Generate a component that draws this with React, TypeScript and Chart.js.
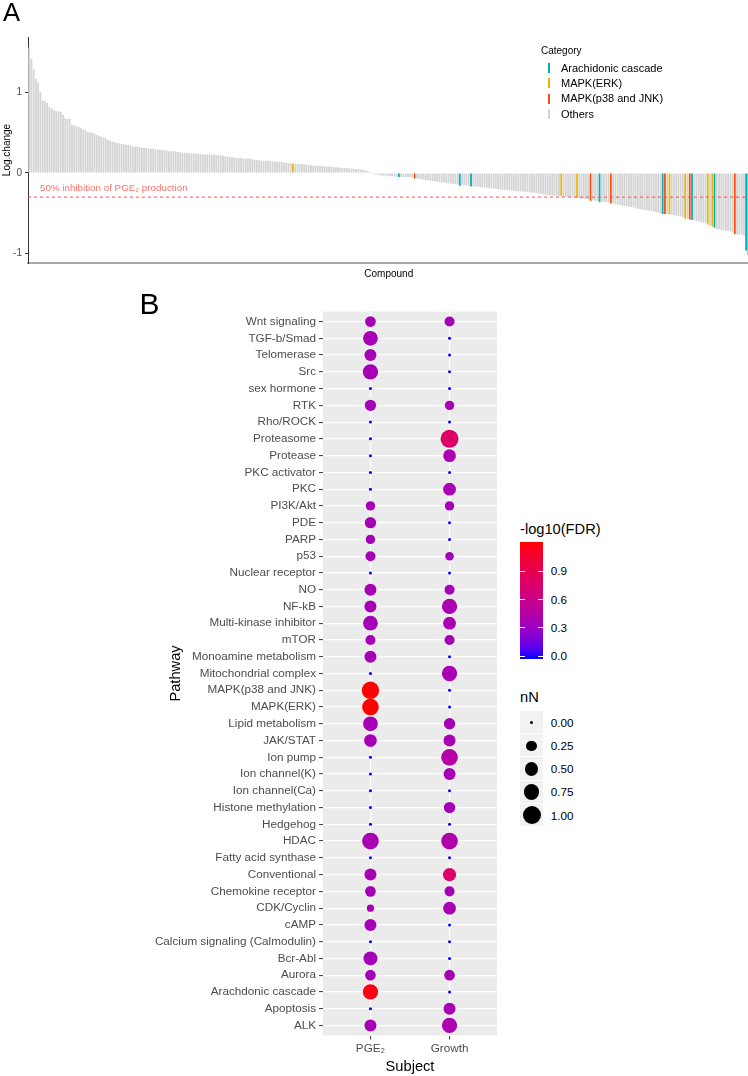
import React, { useEffect, useRef } from "react";
import { Chart, registerables } from "chart.js";
Chart.register(...registerables);

const FONT = '"Liberation Sans", Arial, Helvetica, sans-serif';

// ---------- Panel A data ----------
const LOG_CHANGE = [
  1.56, 1.42, 1.29, 1.17, 1.12, 1.01, 0.90, 0.89, 0.87, 0.82,
  0.80, 0.78, 0.77, 0.76, 0.76, 0.72, 0.68, 0.67, 0.67, 0.60,
  0.59, 0.58, 0.575, 0.56, 0.54, 0.53, 0.51, 0.505, 0.50, 0.49,
  0.47, 0.46, 0.45, 0.44, 0.43, 0.41, 0.40, 0.39, 0.38, 0.37,
  0.37, 0.36, 0.36, 0.35, 0.35, 0.34, 0.33, 0.33, 0.33, 0.32,
  0.31, 0.31, 0.31, 0.30, 0.30, 0.30, 0.29, 0.29, 0.29, 0.285,
  0.28, 0.28, 0.27, 0.27, 0.27, 0.265, 0.26, 0.26, 0.25, 0.25,
  0.25, 0.245, 0.24, 0.24, 0.24, 0.235, 0.235, 0.23, 0.23, 0.23,
  0.23, 0.225, 0.225, 0.22, 0.22, 0.22, 0.215, 0.21, 0.20, 0.20,
  0.195, 0.19, 0.19, 0.185, 0.185, 0.18, 0.18, 0.18, 0.175, 0.17,
  0.16, 0.16, 0.155, 0.155, 0.15, 0.15, 0.15, 0.145, 0.145, 0.14,
  0.14, 0.14, 0.135, 0.13, 0.125, 0.12, 0.12, 0.115, 0.115, 0.11,
  0.11, 0.11, 0.105, 0.105, 0.10, 0.095, 0.09, 0.09, 0.09, 0.085,
  0.085, 0.08, 0.08, 0.08, 0.075, 0.075, 0.07, 0.07, 0.065, 0.06,
  0.06, 0.06, 0.055, 0.055, 0.05, 0.05, 0.045, 0.045, 0.04, 0.03,
  0.025, 0.015, -0.01, -0.015, -0.02, -0.025, -0.03, -0.035, -0.035, -0.04,
  -0.04, -0.04, -0.045, -0.045, -0.05, -0.05, -0.05, -0.05, -0.055, -0.055,
  -0.06, -0.07, -0.07, -0.075, -0.08, -0.085, -0.09, -0.09, -0.095, -0.10,
  -0.105, -0.11, -0.115, -0.12, -0.12, -0.125, -0.13, -0.135, -0.14, -0.14,
  -0.145, -0.16, -0.15, -0.155, -0.155, -0.16, -0.17, -0.165, -0.17, -0.17,
  -0.175, -0.18, -0.18, -0.185, -0.19, -0.19, -0.195, -0.20, -0.20, -0.205,
  -0.21, -0.21, -0.215, -0.22, -0.22, -0.225, -0.225, -0.23, -0.23, -0.235,
  -0.235, -0.24, -0.24, -0.245, -0.245, -0.25, -0.255, -0.26, -0.265, -0.27,
  -0.275, -0.28, -0.28, -0.285, -0.285, -0.29, -0.29, -0.295, -0.30, -0.30,
  -0.30, -0.305, -0.305, -0.31, -0.315, -0.32, -0.32, -0.325, -0.33, -0.345,
  -0.34, -0.345, -0.35, -0.365, -0.355, -0.36, -0.36, -0.365, -0.377, -0.38,
  -0.39, -0.395, -0.40, -0.405, -0.41, -0.415, -0.42, -0.425, -0.43, -0.44,
  -0.445, -0.45, -0.455, -0.46, -0.465, -0.47, -0.475, -0.48, -0.485, -0.49,
  -0.50, -0.51, -0.51, -0.51, -0.515, -0.52, -0.525, -0.53, -0.535, -0.54,
  -0.55, -0.57, -0.57, -0.58, -0.585, -0.59, -0.60, -0.605, -0.61, -0.62,
  -0.63, -0.64, -0.655, -0.67, -0.68, -0.70, -0.70, -0.71, -0.71, -0.72,
  -0.72, -0.73, -0.73, -0.76, -0.765, -0.77, -0.77, -0.78, -0.965, -1.02,
];
const HIGHLIGHT_INDEX = [117, 164, 171, 191, 196, 236, 243, 249, 253, 258, 281, 282, 284, 291, 293, 294, 301, 303, 304, 313, 318, 319];
const HIGHLIGHT_CATEGORY = [
  "MAPK(ERK)", "Arachidonic cascade", "MAPK(p38 and JNK)", "Arachidonic cascade", "Arachidonic cascade",
  "MAPK(ERK)", "MAPK(ERK)", "MAPK(p38 and JNK)", "Arachidonic cascade", "MAPK(p38 and JNK)",
  "Arachidonic cascade", "MAPK(p38 and JNK)", "MAPK(ERK)", "MAPK(ERK)", "MAPK(p38 and JNK)",
  "Arachidonic cascade", "MAPK(ERK)", "MAPK(ERK)", "Arachidonic cascade", "MAPK(p38 and JNK)",
  "Arachidonic cascade", "Arachidonic cascade",
];
const CATEGORIES = ["Arachidonic cascade", "MAPK(ERK)", "MAPK(p38 and JNK)", "Others"];
const CATEGORY_COLORS = ["#00AFBB", "#E7B800", "#FC4E07", "#D4D4D4"];
const Y_TICKS_A = [-1, 0, 1];
const THRESHOLD = -0.301;
const THRESHOLD_LABEL = "50% inhibition of PGE₂ production";

// ---------- Panel B data ----------
const PATHWAYS = [
  "Wnt signaling", "TGF-b/Smad", "Telomerase", "Src", "sex hormone", "RTK", "Rho/ROCK",
  "Proteasome", "Protease", "PKC activator", "PKC", "PI3K/Akt", "PDE", "PARP", "p53",
  "Nuclear receptor", "NO", "NF-kB", "Multi-kinase inhibitor", "mTOR", "Monoamine metabolism",
  "Mitochondrial complex", "MAPK(p38 and JNK)", "MAPK(ERK)", "Lipid metabolism", "JAK/STAT",
  "Ion pump", "Ion channel(K)", "Ion channel(Ca)", "Histone methylation", "Hedgehog", "HDAC",
  "Fatty acid synthase", "Conventional", "Chemokine receptor", "CDK/Cyclin", "cAMP",
  "Calcium signaling (Calmodulin)", "Bcr-Abl", "Aurora", "Arachdonic cascade", "Apoptosis", "ALK",
];
const SUBJECTS = ["PGE₂", "Growth"];
const NN_PGE2 = [
  0.26, 0.61, 0.36, 0.67, 0, 0.31, 0, 0, 0, 0, 0, 0.18, 0.31, 0.18, 0.22,
  0, 0.36, 0.36, 0.61, 0.22, 0.36, 0, 0.91, 0.83, 0.61, 0.42, 0, 0, 0, 0,
  0, 0.83, 0, 0.36, 0.26, 0.08, 0.36, 0, 0.54, 0.26, 0.67, 0, 0.36,
];
const NN_GROWTH = [
  0.22, 0, 0, 0, 0, 0.18, 0, 1.0, 0.42, 0, 0.42, 0.18, 0, 0, 0.14,
  0, 0.22, 0.67, 0.42, 0.22, 0, 0.67, 0, 0, 0.31, 0.36, 0.83, 0.36, 0, 0.31,
  0, 0.83, 0, 0.47, 0.22, 0.42, 0, 0, 0, 0.26, 0, 0.36, 0.67,
];
const FDR_PGE2 = [
  0.36, 0.36, 0.36, 0.36, 0, 0.36, 0, 0, 0, 0, 0, 0.36, 0.36, 0.36, 0.36,
  0, 0.36, 0.36, 0.36, 0.36, 0.36, 0, 1.2, 1.2, 0.36, 0.36, 0, 0, 0, 0,
  0, 0.38, 0, 0.36, 0.36, 0.36, 0.36, 0, 0.36, 0.36, 1.16, 0, 0.36,
];
const FDR_GROWTH = [
  0.36, 0, 0, 0, 0, 0.36, 0, 0.78, 0.38, 0, 0.38, 0.36, 0, 0, 0.36,
  0, 0.36, 0.4, 0.38, 0.36, 0, 0.38, 0, 0, 0.36, 0.38, 0.45, 0.36, 0, 0.36,
  0, 0.42, 0, 0.78, 0.36, 0.38, 0, 0, 0, 0.36, 0, 0.38, 0.4,
];
const COLOR_MAX = 1.2;
const COLORBAR_TICKS = [0.0, 0.3, 0.6, 0.9];
const SIZE_TICKS = [0, 0.25, 0.5, 0.75, 1];

// ---------- colour / size helpers ----------
const WX = 0.95047, WY = 1.0, WZ = 1.08883;
function toLin(c: number) { const v = c / 255; return v <= 0.04045 ? v / 12.92 : Math.pow((v + 0.055) / 1.055, 2.4); }
function fromLin(v: number) {
  const c = v <= 0.0031308 ? 12.92 * v : 1.055 * Math.pow(Math.max(v, 0), 1 / 2.4) - 0.055;
  return Math.round(Math.min(1, Math.max(0, c)) * 255);
}
function fLab(t: number) { return t > 0.008856 ? Math.cbrt(t) : 7.787 * t + 16 / 116; }
function fInv(t: number) { const t3 = t * t * t; return t3 > 0.008856 ? t3 : (t - 16 / 116) / 7.787; }
function rgbToLab(r: number, g: number, b: number) {
  const R = toLin(r), G = toLin(g), B = toLin(b);
  const X = 0.4124 * R + 0.3576 * G + 0.1805 * B;
  const Y = 0.2126 * R + 0.7152 * G + 0.0722 * B;
  const Z = 0.0193 * R + 0.1192 * G + 0.9505 * B;
  const fx = fLab(X / WX), fy = fLab(Y / WY), fz = fLab(Z / WZ);
  return [116 * fy - 16, 500 * (fx - fy), 200 * (fy - fz)];
}
function labToCss(L: number, a: number, b: number) {
  const fy = (L + 16) / 116, fx = fy + a / 500, fz = fy - b / 200;
  const X = WX * fInv(fx), Y = WY * fInv(fy), Z = WZ * fInv(fz);
  const R = 3.2406 * X - 1.5372 * Y - 0.4986 * Z;
  const G = -0.9689 * X + 1.8758 * Y + 0.0415 * Z;
  const B = 0.0557 * X - 0.204 * Y + 1.057 * Z;
  return `rgb(${fromLin(R)},${fromLin(G)},${fromLin(B)})`;
}
const LOW_LAB = rgbToLab(0, 0, 255);
const HIGH_LAB = rgbToLab(255, 0, 0);
function colorFor(v: number) {
  const t = Math.min(1, Math.max(0, v / COLOR_MAX));
  return labToCss(
    LOW_LAB[0] + (HIGH_LAB[0] - LOW_LAB[0]) * t,
    LOW_LAB[1] + (HIGH_LAB[1] - LOW_LAB[1]) * t,
    LOW_LAB[2] + (HIGH_LAB[2] - LOW_LAB[2]) * t
  );
}
function diameterFor(n: number) { return 3 + 15 * Math.sqrt(n); }

// ---------- small text helper ----------
function T(props: { x: number; cy: number; size: number; color?: string; children: React.ReactNode }) {
  const { x, cy, size, color = "#000", children } = props;
  const style: React.CSSProperties = {
    position: "absolute",
    left: x,
    top: cy - 0.4885 * size,
    fontSize: size,
    lineHeight: 1,
    color,
    whiteSpace: "nowrap",
    fontFamily: FONT,
  };
  return <div style={style}>{children}</div>;
}

function PanelA() {
  const ref = useRef<HTMLCanvasElement | null>(null);
  useEffect(() => {
    if (!ref.current) return;
    const labels = LOG_CHANGE.map((_, i) => `C${i + 1}`);
    const colors = LOG_CHANGE.map((_, i) => {
      const k = HIGHLIGHT_INDEX.indexOf(i);
      return k < 0 ? CATEGORY_COLORS[3] : CATEGORY_COLORS[CATEGORIES.indexOf(HIGHLIGHT_CATEGORY[k])];
    });
    const thresholdPlugin = {
      id: "threshold",
      afterDatasetsDraw(chart: any) {
        const { ctx, chartArea } = chart;
        const y = chart.scales.y.getPixelForValue(THRESHOLD);
        ctx.save();
        ctx.strokeStyle = "#FF4D4D";
        ctx.lineWidth = 1;
        ctx.setLineDash([3, 3]);
        ctx.beginPath();
        ctx.moveTo(chartArea.left, y);
        ctx.lineTo(chartArea.right, y);
        ctx.stroke();
        ctx.setLineDash([]);
        ctx.fillStyle = "#F8766D";
        ctx.font = `9.8px ${FONT}`;
        ctx.textBaseline = "middle";
        ctx.textAlign = "left";
        ctx.fillText(THRESHOLD_LABEL, 40, y - 8.5);
        ctx.restore();
      },
    };
    const chart = new Chart(ref.current, {
      type: "bar",
      data: {
        labels,
        datasets: [{ data: LOG_CHANGE, backgroundColor: colors, borderWidth: 0, categoryPercentage: 1, barPercentage: 0.8 }],
      },
      options: {
        animation: false,
        responsive: false,
        events: [],
        layout: { autoPadding: false, padding: { top: 37, left: 0, right: 20.5, bottom: 0 } },
        plugins: { legend: { display: false }, tooltip: { enabled: false } },
        scales: {
          x: {
            type: "category",
            offset: true,
            ticks: { display: false },
            grid: { display: true, drawOnChartArea: false, drawTicks: false },
            border: { display: true, color: "#A8A8A8", width: 2 },
            title: { display: true, text: "Compound", color: "#000", font: { family: FONT, size: 10 }, padding: { top: 0, bottom: 10 } },
            afterFit: (s: any) => { s.height = 27; s.paddingLeft = 0; s.paddingRight = 0; },
          },
          y: {
            type: "linear",
            min: -1.12,
            max: 1.69,
            afterBuildTicks: (a: any) => { a.ticks = Y_TICKS_A.map((v) => ({ value: v })); },
            ticks: { color: "#4D4D4D", font: { family: FONT, size: 10 }, padding: 3, callback: (v: any) => String(v) },
            grid: { display: true, drawOnChartArea: false, tickLength: 3, tickColor: "#333333", tickWidth: 1 },
            border: { display: true, color: "#333333", width: 1 },
            title: { display: true, text: "Log.change", color: "#000", font: { family: FONT, size: 10 }, padding: { top: 1, bottom: 0 } },
            afterFit: (s: any) => { s.width = 28; s.paddingTop = 0; s.paddingBottom = 0; },
          },
        },
      },
      plugins: [thresholdPlugin],
    } as any);
    return () => chart.destroy();
  }, []);
  return <canvas ref={ref} width={770} height={290} style={{ position: "absolute", left: 0, top: 0, width: 770, height: 290 }} />;
}

function PanelB() {
  const ref = useRef<HTMLCanvasElement | null>(null);
  useEffect(() => {
    if (!ref.current) return;
    const bgPlugin = {
      id: "panelBg",
      beforeDraw(chart: any) {
        const { ctx, chartArea } = chart;
        ctx.save();
        ctx.fillStyle = "#EBEBEB";
        ctx.fillRect(chartArea.left, chartArea.top, chartArea.right - chartArea.left, chartArea.bottom - chartArea.top);
        ctx.restore();
      },
    };
    const nn = [NN_PGE2, NN_GROWTH];
    const fdr = [FDR_PGE2, FDR_GROWTH];
    const chart = new Chart(ref.current, {
      type: "scatter",
      data: {
        datasets: SUBJECTS.map((s, j) => ({
          label: s,
          data: PATHWAYS.map((_, i) => ({ x: j, y: i })),
          pointRadius: nn[j].map((v) => diameterFor(v) / 2),
          pointBackgroundColor: fdr[j].map((v) => colorFor(v)),
          pointBorderWidth: 0,
          pointBorderColor: "rgba(0,0,0,0)",
        })),
      },
      options: {
        animation: false,
        responsive: false,
        events: [],
        layout: { autoPadding: false, padding: { top: 11.5, left: 0, right: 0, bottom: 0 } },
        plugins: { legend: { display: false }, tooltip: { enabled: false } },
        scales: {
          x: {
            type: "linear",
            min: -0.6,
            max: 1.6,
            afterBuildTicks: (a: any) => { a.ticks = SUBJECTS.map((_, i) => ({ value: i })); },
            ticks: { autoSkip: false, maxRotation: 0, color: "#4D4D4D", font: { family: FONT, size: 11.7 }, padding: 2, callback: (v: any) => SUBJECTS[v] },
            grid: { color: "#FFFFFF", lineWidth: 1.2, tickColor: "#333333", tickLength: 4, tickWidth: 1 },
            border: { display: false },
            title: { display: true, text: "Subject", color: "#000", font: { family: FONT, size: 14.67 }, padding: { top: 0, bottom: 0.5 } },
            afterFit: (s: any) => { s.height = 40.5; s.paddingLeft = 0; s.paddingRight = 0; },
          },
          y: {
            type: "linear",
            reverse: true,
            min: -0.6,
            max: PATHWAYS.length - 0.4,
            afterBuildTicks: (a: any) => { a.ticks = PATHWAYS.map((_, i) => ({ value: i })); },
            ticks: { autoSkip: false, color: "#4D4D4D", font: { family: FONT, size: 11.7 }, padding: 3, callback: (v: any) => PATHWAYS[v] },
            grid: { color: "#FFFFFF", lineWidth: 1.2, tickColor: "#333333", tickLength: 4, tickWidth: 1 },
            border: { display: false },
            title: { display: true, text: "Pathway", color: "#000", font: { family: FONT, size: 14.67 }, padding: { top: 17.6, bottom: 0 } },
            afterFit: (s: any) => { s.width = 173; s.paddingTop = 0; s.paddingBottom = 0; },
          },
        },
      },
      plugins: [bgPlugin],
    } as any);
    return () => chart.destroy();
  }, []);
  return <canvas ref={ref} width={347} height={776} style={{ position: "absolute", left: 150, top: 300, width: 347, height: 776 }} />;
}

function LegendA() {
  const rows = [68.3, 83.3, 98.7, 114];
  return (
    <>
      <T x={541} cy={50.7} size={10}>Category</T>
      {CATEGORIES.map((c, i) => (
        <React.Fragment key={c}>
          <div style={{ position: "absolute", left: 548.3, top: rows[i] - 5, width: 1.6, height: 10, background: CATEGORY_COLORS[i] }} />
          <T x={561} cy={rows[i]} size={11}>{c}</T>
        </React.Fragment>
      ))}
    </>
  );
}

function LegendB() {
  const barTop = 542, barBottom = 659, zeroY = 656, pxPerUnit = 94.4;
  const vTop = (zeroY - barTop) / pxPerUnit;
  const vBottom = (zeroY - barBottom) / pxPerUnit;
  const stops: string[] = [];
  for (let k = 0; k <= 24; k++) {
    const v = vBottom + (k / 24) * (vTop - vBottom);
    stops.push(`${colorFor(v)} ${((k / 24) * 100).toFixed(2)}%`);
  }
  const keyTops = [711, 734.2, 757.4, 780.6, 803.8];
  return (
    <>
      <T x={520} cy={529} size={14.67}>-log10(FDR)</T>
      <div style={{ position: "absolute", left: 520, top: barTop, width: 23, height: barBottom - barTop, background: `linear-gradient(to top, ${stops.join(", ")})` }} />
      {COLORBAR_TICKS.map((v) => {
        const y = zeroY - v * pxPerUnit;
        return (
          <React.Fragment key={v}>
            <div style={{ position: "absolute", left: 520, top: y - 0.5, width: 4.6, height: 1, background: "#FFFFFF" }} />
            <div style={{ position: "absolute", left: 538.4, top: y - 0.5, width: 4.6, height: 1, background: "#FFFFFF" }} />
            <T x={550.7} cy={y} size={11.7} color="#000">{v.toFixed(1)}</T>
          </React.Fragment>
        );
      })}
      <T x={520} cy={697} size={14.67}>nN</T>
      {SIZE_TICKS.map((v, i) => {
        const d = diameterFor(v);
        const cy = keyTops[i] + 11.6;
        return (
          <React.Fragment key={v}>
            <div style={{ position: "absolute", left: 520, top: keyTops[i], width: 23, height: 22.2, background: "#F2F2F2" }} />
            <div style={{ position: "absolute", left: 531.5 - d / 2, top: cy - d / 2, width: d, height: d, borderRadius: "50%", background: "#000" }} />
            <T x={550.7} cy={cy} size={11.7} color="#000">{v.toFixed(2)}</T>
          </React.Fragment>
        );
      })}
    </>
  );
}

export default function App() {
  return (
    <div style={{ position: "fixed", left: 0, top: 0, width: 748, height: 1076, overflow: "hidden", background: "#FFFFFF", fontFamily: FONT }}>
      <PanelA />
      <PanelB />
      <T x={3} cy={12.5} size={25.6}>A</T>
      <T x={139.5} cy={304.1} size={30}>B</T>
      <LegendA />
      <LegendB />
    </div>
  );
}
